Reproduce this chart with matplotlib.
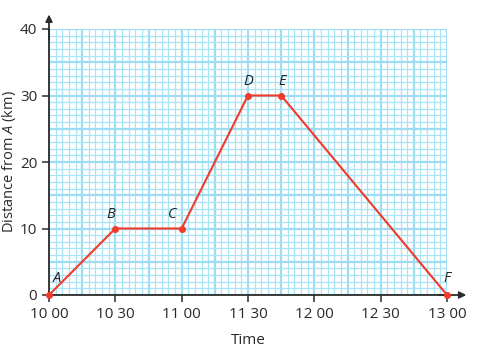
import matplotlib
matplotlib.use("Agg")
import matplotlib.pyplot as plt
import numpy as np

# Data
labels = ["A", "B", "C", "D", "E", "F"]
minutes = [0, 30, 60, 90, 105, 180]      # minutes after 10:00
distance = [0, 10, 10, 30, 30, 0]        # km from A
xtick_minutes = [0, 30, 60, 90, 120, 150, 180]
xtick_labels = ["10 00", "10 30", "11 00", "11 30", "12 00", "12 30", "13 00"]
yticks = [0, 10, 20, 30, 40]

plt.rcParams['font.family'] = ['Open Sans', 'DejaVu Sans']
plt.rcParams['mathtext.fontset'] = 'custom'
plt.rcParams['mathtext.it'] = 'Open Sans:italic'
plt.rcParams['mathtext.rm'] = 'Open Sans'

fig = plt.figure(figsize=(4.84, 3.58), dpi=100)
ax = fig.add_axes([49/484, 1-295/358, (447-49)/484, (295-29)/358])
ax.set_xlim(0, 180)
ax.set_ylim(0, 40)

minor_c = '#a9e3f6'
mid_c = '#9edcf3'
# grid lines
for xv in np.arange(0, 181, 3):
    c, lw = (mid_c, 1.6) if xv % 15 == 0 else (minor_c, 0.9)
    ax.axvline(xv, color=c, lw=lw, zorder=0)
for yv in np.arange(0, 41, 1):
    c, lw = (mid_c, 1.6) if yv % 5 == 0 else (minor_c, 0.9)
    ax.axhline(yv, color=c, lw=lw, zorder=0)

for s in ['top', 'right']:
    ax.spines[s].set_visible(False)
for s in ['left', 'bottom']:
    ax.spines[s].set_color('#2b2b2b')
    ax.spines[s].set_linewidth(1.3)
    ax.spines[s].set_zorder(3)

# arrows
ax.annotate('', xy=(190, 0), xytext=(175, 0), xycoords='data',
            arrowprops=dict(arrowstyle='-|>', color='#2b2b2b', lw=1.3, mutation_scale=10),
            annotation_clip=False)
ax.annotate('', xy=(0, 42.6), xytext=(0, 38), xycoords='data',
            arrowprops=dict(arrowstyle='-|>', color='#2b2b2b', lw=1.3, mutation_scale=10),
            annotation_clip=False)

ax.set_xticks(xtick_minutes)
ax.set_xticklabels(xtick_labels)
ax.set_yticks(yticks)
ax.tick_params(axis='both', colors='#2b2b2b', labelsize=11, length=5, width=1.1, labelcolor='#2a2a2a')

ax.plot(minutes, distance, color='#f03a2a', lw=1.5, marker='o', ms=4, zorder=5, clip_on=False)

offsets = {"A": (6, 12), "B": (-3, 10), "C": (-7, 10), "D": (0, 10), "E": (1, 10), "F": (0, 12)}
for lab, xv, yv in zip(labels, minutes, distance):
    dx, dy = offsets[lab]
    ax.annotate(lab, (xv, yv), xytext=(dx, dy), textcoords='offset points',
                ha='center', va='center', fontstyle='italic', fontsize=10.5, color='#222222', zorder=6)

ax.set_xlabel('Time', fontsize=11, color='#2a2a2a', labelpad=8)
fig.text(9/484, 1-162/358, r'Distance from $\mathit{A}$ (km)', rotation=90, ha='center', va='center',
         fontsize=10.5, color='#2a2a2a')

fig.savefig('out.png', dpi=100)
